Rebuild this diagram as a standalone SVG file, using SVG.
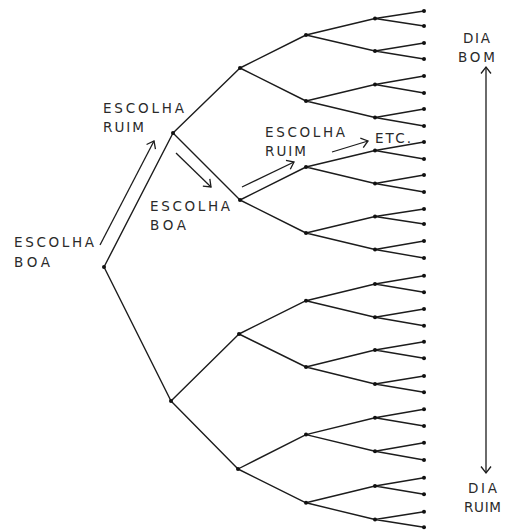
<svg xmlns="http://www.w3.org/2000/svg" width="506" height="531" viewBox="0 0 506 531">
<style>
.e{stroke:#1c1c1c;stroke-width:1.4;fill:none;stroke-linecap:round}
.a{stroke:#1c1c1c;stroke-width:1.3;fill:none;marker-end:url(#v)}
.n{fill:#111}
.t{font-family:"DejaVu Sans","Liberation Sans",Arial,sans-serif;font-size:13.5px;fill:#2a2a2a}
</style>
<defs>
<marker id="v" markerUnits="userSpaceOnUse" markerWidth="16" markerHeight="16" refX="0" refY="0" viewBox="-10 -8 12 16" orient="auto">
<path d="M-6.5,-5 L0,0 L-6.5,5" stroke="#1c1c1c" stroke-width="1.3" fill="none"/>
</marker>
</defs>
<rect width="506" height="531" fill="#fff"/>
<g id="connectors">
<path class="e" d="M104,267 L173,133 M104,267 L171,401"/>
<path class="e" d="M173,133 L240,68 M173,133 L240,200 M171,401 L239,334 M171,401 L238,469"/>
<path class="e" d="M240,68 L306,35 M240,68 L306,101 M240,200 L306,167 M240,200 L306,233 M239,334 L306,300.7 M239,334 L306,367 M238,469 L306,434.6 M238,469 L306,502.8"/>
<path class="e" d="M306,35 L375,18.5 M306,35 L375,51 M306,101 L375,84.5 M306,101 L375,117.5 M306,167 L375,150.5 M306,167 L375,183.5 M306,233 L375,216.5 M306,233 L375,249.5 M306,300.7 L375,284 M306,300.7 L375,317.3 M306,367 L375,350 M306,367 L375,384 M306,434.6 L375,417.8 M306,434.6 L375,451.3 M306,502.8 L375,486 M306,502.8 L375,519.5"/>
<path class="e" d="M375,18.5 L424,11 M375,18.5 L424,26 M375,51 L424,43 M375,51 L424,59 M375,84.5 L424,76 M375,84.5 L424,93 M375,117.5 L424,109 M375,117.5 L424,126 M375,150.5 L424,142 M375,150.5 L424,159 M375,183.5 L424,175 M375,183.5 L424,192 M375,216.5 L424,209 M375,216.5 L424,224 M375,249.5 L424,241 M375,249.5 L424,258 M375,284 L424,275.7 M375,284 L424,292.3 M375,317.3 L424,309 M375,317.3 L424,325.7 M375,350 L424,341.7 M375,350 L424,358.3 M375,384 L424,376 M375,384 L424,392.3 M375,417.8 L424,409.3 M375,417.8 L424,426 M375,451.3 L424,442.7 M375,451.3 L424,460 M375,486 L424,477.7 M375,486 L424,494.3 M375,519.5 L424,511.7 M375,519.5 L424,527.3"/>
<line class="a" x1="100" y1="245" x2="154" y2="141"/>
<line class="a" x1="176" y1="153" x2="211" y2="187"/>
<line class="a" x1="242" y1="187" x2="294" y2="162"/>
<line class="a" x1="332" y1="152" x2="368" y2="141"/>
<line class="a" x1="486" y1="270" x2="486" y2="67"/>
<line class="a" x1="486" y1="270" x2="486" y2="473"/>
</g>
<g id="root"><circle class="n" cx="104" cy="267" r="2"/></g>
<g id="l1a"><circle class="n" cx="173" cy="133" r="2"/></g>
<g id="l1b"><circle class="n" cx="171" cy="401" r="2"/></g>
<g id="l2"><circle class="n" cx="240" cy="68" r="2"/><circle class="n" cx="240" cy="200" r="2"/><circle class="n" cx="239" cy="334" r="2"/><circle class="n" cx="238" cy="469" r="2"/></g>
<g id="l3"><circle class="n" cx="306" cy="35" r="2"/><circle class="n" cx="306" cy="101" r="2"/><circle class="n" cx="306" cy="167" r="2"/><circle class="n" cx="306" cy="233" r="2"/><circle class="n" cx="306" cy="300.7" r="2"/><circle class="n" cx="306" cy="367" r="2"/><circle class="n" cx="306" cy="434.6" r="2"/><circle class="n" cx="306" cy="502.8" r="2"/></g>
<g id="l4"><circle class="n" cx="375" cy="18.5" r="2"/><circle class="n" cx="375" cy="51" r="2"/><circle class="n" cx="375" cy="84.5" r="2"/><circle class="n" cx="375" cy="117.5" r="2"/><circle class="n" cx="375" cy="150.5" r="2"/><circle class="n" cx="375" cy="183.5" r="2"/><circle class="n" cx="375" cy="216.5" r="2"/><circle class="n" cx="375" cy="249.5" r="2"/><circle class="n" cx="375" cy="284" r="2"/><circle class="n" cx="375" cy="317.3" r="2"/><circle class="n" cx="375" cy="350" r="2"/><circle class="n" cx="375" cy="384" r="2"/><circle class="n" cx="375" cy="417.8" r="2"/><circle class="n" cx="375" cy="451.3" r="2"/><circle class="n" cx="375" cy="486" r="2"/><circle class="n" cx="375" cy="519.5" r="2"/></g>
<g id="leaves"><circle class="n" cx="424" cy="11" r="2"/><circle class="n" cx="424" cy="26" r="2"/><circle class="n" cx="424" cy="43" r="2"/><circle class="n" cx="424" cy="59" r="2"/><circle class="n" cx="424" cy="76" r="2"/><circle class="n" cx="424" cy="93" r="2"/><circle class="n" cx="424" cy="109" r="2"/><circle class="n" cx="424" cy="126" r="2"/><circle class="n" cx="424" cy="142" r="2"/><circle class="n" cx="424" cy="159" r="2"/><circle class="n" cx="424" cy="175" r="2"/><circle class="n" cx="424" cy="192" r="2"/><circle class="n" cx="424" cy="209" r="2"/><circle class="n" cx="424" cy="224" r="2"/><circle class="n" cx="424" cy="241" r="2"/><circle class="n" cx="424" cy="258" r="2"/><circle class="n" cx="424" cy="275.7" r="2"/><circle class="n" cx="424" cy="292.3" r="2"/><circle class="n" cx="424" cy="309" r="2"/><circle class="n" cx="424" cy="325.7" r="2"/><circle class="n" cx="424" cy="341.7" r="2"/><circle class="n" cx="424" cy="358.3" r="2"/><circle class="n" cx="424" cy="376" r="2"/><circle class="n" cx="424" cy="392.3" r="2"/><circle class="n" cx="424" cy="409.3" r="2"/><circle class="n" cx="424" cy="426" r="2"/><circle class="n" cx="424" cy="442.7" r="2"/><circle class="n" cx="424" cy="460" r="2"/><circle class="n" cx="424" cy="477.7" r="2"/><circle class="n" cx="424" cy="494.3" r="2"/><circle class="n" cx="424" cy="511.7" r="2"/><circle class="n" cx="424" cy="527.3" r="2"/></g>
<g id="labels" class="t">
<text x="14" y="247" textLength="80" lengthAdjust="spacing">ESCOLHA</text>
<text x="14" y="267" textLength="36" lengthAdjust="spacing">BOA</text>
<text x="103" y="113" textLength="81" lengthAdjust="spacing">ESCOLHA</text>
<text x="103" y="132" textLength="41" lengthAdjust="spacing">RUIM</text>
<text x="150" y="211" textLength="80" lengthAdjust="spacing">ESCOLHA</text>
<text x="150" y="230" textLength="36" lengthAdjust="spacing">BOA</text>
<text x="265" y="137" textLength="80" lengthAdjust="spacing">ESCOLHA</text>
<text x="265" y="156" textLength="41" lengthAdjust="spacing">RUIM</text>
<text x="375" y="143" textLength="36" lengthAdjust="spacing">ETC.</text>
<text x="463" y="43" textLength="27" lengthAdjust="spacing">DIA</text>
<text x="458" y="62" textLength="37" lengthAdjust="spacing">BOM</text>
<text x="468" y="493" textLength="29" lengthAdjust="spacing">DIA</text>
<text x="464" y="512" textLength="37" lengthAdjust="spacing">RUIM</text>
</g>
</svg>
